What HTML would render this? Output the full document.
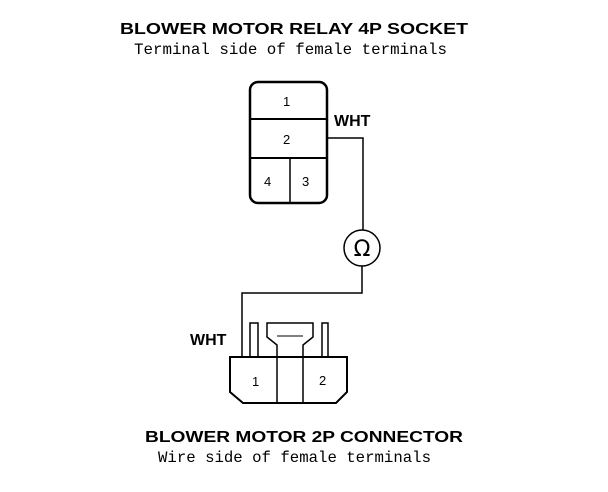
<!DOCTYPE html>
<html><head><style>
body{margin:0;background:#fff}
svg{display:block}
.t{font-family:"Liberation Sans",sans-serif;font-weight:bold;font-size:16px}
.s{font-family:"Liberation Mono",monospace;font-size:16px}
.n{font-family:"Liberation Sans",sans-serif;font-size:13px}
</style></head><body>
<svg width="608" height="492" viewBox="0 0 608 492" xmlns="http://www.w3.org/2000/svg">
<text class="t" x="120" y="34" textLength="348" lengthAdjust="spacingAndGlyphs">BLOWER MOTOR RELAY 4P SOCKET</text>
<text class="s" x="134" y="54" textLength="313" lengthAdjust="spacingAndGlyphs">Terminal side of female terminals</text>
<g fill="none" stroke="#000">
<rect x="250" y="82" width="77" height="121" rx="8" stroke-width="2.5"/>
<line x1="250" y1="119" x2="327" y2="119" stroke-width="2"/>
<line x1="250" y1="158" x2="327" y2="158" stroke-width="2"/>
<line x1="290" y1="158" x2="290" y2="203" stroke-width="1.5"/>
<polyline points="327,138 363,138 363,230" stroke-width="1.5"/>
<circle cx="362" cy="248" r="18" stroke-width="1.5"/>
<polyline points="362,266 362,293 242,293 242,357" stroke-width="1.5"/>
<polygon points="230,357 347,357 347,392 336,403 243,403 230,392" stroke-width="2"/>
<rect x="250" y="323" width="8" height="34" stroke-width="1.5"/>
<rect x="322" y="323" width="6" height="34" stroke-width="1.5"/>
<polyline points="277,403 277,345 267,337 267,323 313,323 313,337 303,345 303,403" stroke-width="1.5"/>
<polyline points="277,336 303,336" stroke-width="1"/>
</g>
<text class="n" x="283" y="106">1</text>
<text class="n" x="283" y="144">2</text>
<text class="n" x="264" y="186">4</text>
<text class="n" x="302" y="186">3</text>
<text x="362" y="256" font-family="DejaVu Sans,sans-serif" font-size="22" text-anchor="middle">Ω</text>
<text class="t" x="334" y="126">WHT</text>
<text class="t" x="190" y="345">WHT</text>
<text class="n" x="252" y="386">1</text>
<text class="n" x="319" y="385">2</text>
<text class="t" x="145" y="442" textLength="318" lengthAdjust="spacingAndGlyphs">BLOWER MOTOR 2P CONNECTOR</text>
<text class="s" x="158" y="462" textLength="273" lengthAdjust="spacingAndGlyphs">Wire side of female terminals</text>
</svg>
</body></html>
